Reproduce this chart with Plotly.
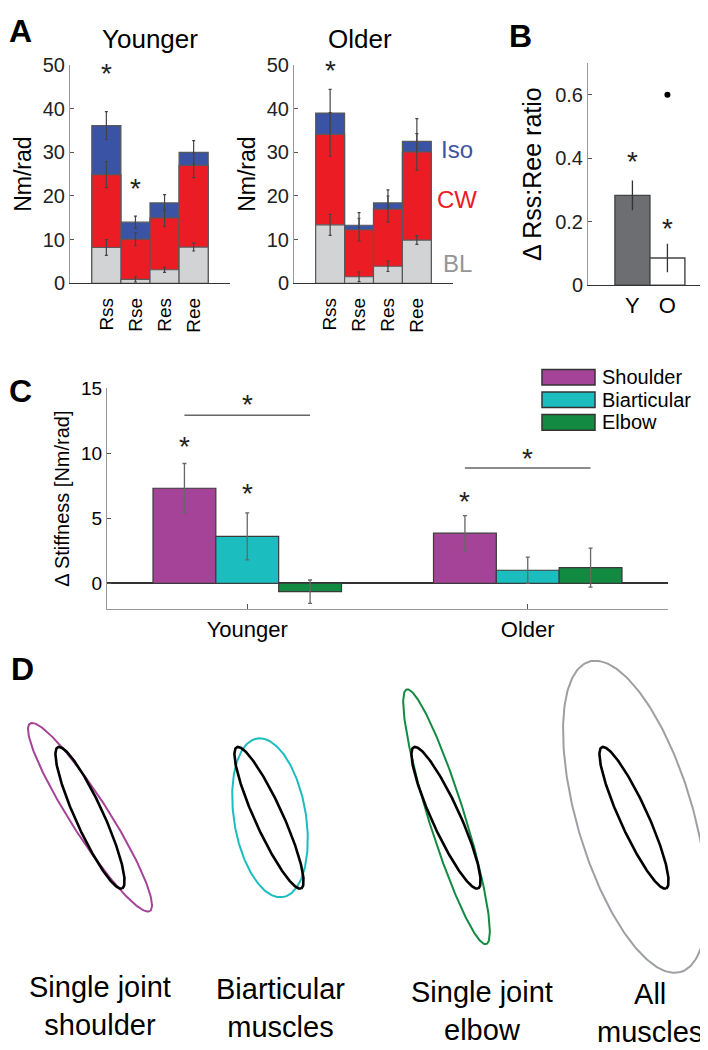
import numpy as np
import plotly.graph_objects as go

# page has an 8px body margin, so the figure is drawn 8px smaller
OFF = 8
W, H = 708 - OFF, 1050 - OFF
FONT = "Liberation Sans, Arial, sans-serif"

# ---- panel A: stiffness components (levels, Nm/rad) ----
segments = ["Rss", "Rse", "Res", "Ree"]
young_bl = [8.2, 0.9, 3.1, 8.3]
young_cw = [24.9, 10.1, 15.0, 27.0]
young_iso = [36.1, 14.0, 18.4, 30.0]
young_bl_err = [1.8, 0.6, 0.6, 0.9]
young_cw_err = [3.0, 1.5, 2.0, 2.8]
young_iso_err = [3.2, 1.4, 1.9, 2.7]
old_bl = [13.4, 1.5, 3.9, 9.9]
old_cw = [34.1, 12.3, 17.0, 30.1]
old_iso = [39.0, 13.3, 18.4, 32.5]
old_bl_err = [2.4, 1.1, 1.2, 1.0]
old_cw_err = [5.0, 2.6, 3.0, 4.2]
old_iso_err = [5.4, 2.9, 3.0, 5.2]
young_star_x = ["Rss", "Rse"]
young_star_y = [48.0, 21.6]
old_star_x = ["Rss"]
old_star_y = [48.8]

# ---- panel B: ratio ----
groups_b = ["Y", "O"]
ratio_vals = [0.283, 0.086]
ratio_err = [0.047, 0.045]
ratio_outlier = 0.6
ratio_star_y = [0.39, 0.18]

# ---- panel C: delta stiffness by muscle group ----
ages = ["Younger", "Older"]
age_pos = [0, 1]
muscles = ["Shoulder", "Biarticular", "Elbow"]
shoulder = [7.3, 3.85]
biart = [3.6, 1.0]
elbow = [-0.65, 1.2]
shoulder_err = [1.9, 1.35]
biart_err = [1.8, 1.0]
elbow_err = [0.9, 1.5]
sig_line_y = [12.9, 8.85]
sig_star_y = [13.7, 9.6]

# ---- panel D: ellipses (pixel units) ----
ell_labels = ["Single joint<br>shoulder", "Biarticular<br>muscles",
              "Single joint<br>elbow", "All<br>muscles"]
label_x = [100, 280, 482, 650]
label_y = [1016, 1018, 1021, 1023]
ell_cx = [90, 269, 446, 634]
ell_cy = [824, 824, 824, 824]
inner_a, inner_b, inner_ang = 79, 14, 66
outer_cx = [90, 270, 446.5, 635]
outer_cy = [823.5, 824, 823, 823]
outer_a = [113, 82, 136, 165]
outer_b = [19, 36, 18, 58]
outer_ang = [58, 81, 73, 74]

ISO = "#3B53A4"
CW = "#EC1C24"
BL = "#D1D3D4"
EDGE = "#58595B"
ERR = "#444444"
C_SH = "#A54399"
C_BI = "#1BBDBF"
C_EL = "#138A42"
C_ALL = "#9D9FA2"


def px(p):
    return (p - OFF) / W


def py(p):
    return 1 - (p - OFF) / H


def dx(p0, p1):
    return [px(p0), px(p1)]


def dy(top, bottom):
    return [py(bottom), py(top)]


fig = go.Figure()

# panel A bars (overlaid: total, CW, BL)
for xa, ya, lv, er in [("x", "y", [young_iso, young_cw, young_bl], [young_iso_err, young_cw_err, young_bl_err]),
                       ("x2", "y2", [old_iso, old_cw, old_bl], [old_iso_err, old_cw_err, old_bl_err])]:
    for vals, errs, col in zip(lv, er, [ISO, CW, BL]):
        fig.add_trace(go.Bar(
            x=segments, y=vals, width=1, xaxis=xa, yaxis=ya,
            marker=dict(color=col, line=dict(color=EDGE, width=1.2)),
            error_y=dict(type="data", array=errs, color=ERR, thickness=1.2, width=1.5)))

# panel B
fig.add_trace(go.Bar(
    x=groups_b, y=ratio_vals, width=1, xaxis="x3", yaxis="y3",
    marker=dict(color=["#6D6E71", "white"], line=dict(color="#444", width=1.4)),
    error_y=dict(type="data", array=ratio_err, color="#333", thickness=1.3, width=0)))
fig.add_trace(go.Scatter(x=["O"], y=[ratio_outlier], mode="markers", xaxis="x3", yaxis="y3",
                         marker=dict(color="black", size=6)))

# panel C
bw = 0.224
for vals, errs, col, off in [(shoulder, shoulder_err, C_SH, -1.5 * bw),
                             (biart, biart_err, C_BI, -0.5 * bw),
                             (elbow, elbow_err, C_EL, 0.5 * bw)]:
    fig.add_trace(go.Bar(
        x=age_pos, y=vals, width=bw, offset=off, xaxis="x4", yaxis="y4",
        marker=dict(color=col, line=dict(color="#3a3a3a", width=1.2)),
        error_y=dict(type="data", array=errs, color="#666", thickness=1.3, width=2)))
for xp, yv in zip(age_pos, sig_line_y):
    fig.add_trace(go.Scatter(x=[xp - bw, xp + bw], y=[yv, yv], mode="lines", xaxis="x4", yaxis="y4",
                             line=dict(color="#666", width=1.5)))

# panel D ellipses
t = np.linspace(0, 2 * np.pi, 240)


def ellipse(cx, cy, a, b, ang):
    th = np.deg2rad(ang)
    return (cx + a * np.cos(th) * np.cos(t) - b * np.sin(th) * np.sin(t),
            cy + a * np.sin(th) * np.cos(t) + b * np.cos(th) * np.sin(t))


for i, col in enumerate([C_SH, C_BI, C_EL, C_ALL]):
    ex, ey = ellipse(outer_cx[i], outer_cy[i], outer_a[i], outer_b[i], outer_ang[i])
    fig.add_trace(go.Scatter(x=ex, y=ey, mode="lines", xaxis="x5", yaxis="y5",
                             line=dict(color=col, width=2)))
    ex, ey = ellipse(ell_cx[i], ell_cy[i], inner_a, inner_b, inner_ang)
    fig.add_trace(go.Scatter(x=ex, y=ey, mode="lines", xaxis="x5", yaxis="y5",
                             line=dict(color="black", width=2.6)))

ann = []


def star(x, y, xr, yr):
    ann.append(dict(x=x, y=y, xref=xr, yref=yr, text="*", showarrow=False,
                    font=dict(size=28, color="#222"), yshift=0))


for x, y in zip(young_star_x, young_star_y):
    star(x, y, "x", "y")
for x, y in zip(old_star_x, old_star_y):
    star(x, y, "x2", "y2")
for x, y in zip(groups_b, ratio_star_y):
    star(x, y, "x3", "y3")
star(-bw, 10.5, "x4", "y4")
star(0, 6.9, "x4", "y4")
star(1 - bw, 6.3, "x4", "y4")
for xp, yv in zip(age_pos, sig_star_y):
    star(xp, yv, "x4", "y4")


def text(x, y, s, size, color="black", bold=False, xanchor="center"):
    ann.append(dict(x=px(x), y=py(y), xref="paper", yref="paper", text=f"<b>{s}</b>" if bold else s,
                    showarrow=False, xanchor=xanchor, yanchor="middle",
                    font=dict(size=size, color=color)))


text(20, 20, "A", 32, bold=True)
text(520, 25, "B", 32, bold=True)
text(20, 388, "C", 32, bold=True)
text(22, 672, "D", 32, bold=True)
text(150, 28, "Younger", 26)
text(360, 28, "Older", 26)
text(457, 141, "Iso", 24, ISO)
text(457, 192, "CW", 24, CW)
text(457, 258, "BL", 24, "#939598")

# legend panel C
leg_y = [374, 397, 420]
for name, col, yy in zip(muscles, [C_SH, C_BI, C_EL], leg_y):
    fig.add_shape(type="rect", xref="paper", yref="paper", x0=px(542), x1=px(595),
                  y0=py(yy + 8), y1=py(yy - 8),
                  fillcolor=col, line=dict(color="#333", width=1.5))
    text(600, yy, name, 20, xanchor="left")

# panel D labels
for lab, cx, cy in zip(ell_labels, label_x, label_y):
    ann.append(dict(x=cx, y=cy, xref="x5", yref="y5", text=lab, showarrow=False,
                    font=dict(size=29, color="black"), align="center"))

axis_common = dict(ticks="inside", ticklen=4, tickcolor="#555", showgrid=False, zeroline=False,
                   tickfont=dict(size=20, color="#222"))

fig.update_layout(
    width=W, height=H, margin=dict(l=0, r=0, t=0, b=0),
    paper_bgcolor="white", plot_bgcolor="white", showlegend=False,
    barmode="overlay", font=dict(family=FONT, color="black"),
    annotations=ann,
    xaxis=dict(domain=dx(70, 230), range=[-1.25, 4.25], showline=True, linecolor="#333",
               ticks="", tickangle=-90, tickfont=dict(size=19), ticklabelstandoff=6, showgrid=False),
    yaxis=dict(domain=dy(55, 278), range=[0, 50], showline=True, linecolor="#999",
               tickvals=[0, 10, 20, 30, 40, 50], title=dict(text="Nm/rad", font=dict(size=23), standoff=4),
               **axis_common),
    xaxis2=dict(domain=dx(294, 453), range=[-1.25, 4.25], showline=True, linecolor="#333",
                ticks="", tickangle=-90, tickfont=dict(size=19), ticklabelstandoff=6, showgrid=False),
    yaxis2=dict(domain=dy(55, 278), range=[0, 50], showline=True, linecolor="#999", anchor="x2",
                tickvals=[0, 10, 20, 30, 40, 50], title=dict(text="Nm/rad", font=dict(size=23), standoff=4),
                **axis_common),
    xaxis3=dict(domain=dx(588, 708), range=[-1.27, 2.16], showline=True, linecolor="#333",
                ticks="", tickfont=dict(size=22), showgrid=False, anchor="y3"),
    yaxis3=dict(domain=dy(53, 280), range=[0, 0.7], showline=True, linecolor="#999", anchor="x3",
                tickvals=[0, 0.2, 0.4, 0.6], ticktext=["0", "0.2", "0.4", "0.6"],
                title=dict(text="\u0394 Rss:Ree ratio", font=dict(size=25), standoff=6), **axis_common),
    xaxis4=dict(domain=dx(107, 668), range=[-0.5, 1.5], showline=True, linecolor="#999", anchor="y4",
                tickvals=age_pos, ticktext=ages,
                ticks="inside", ticklen=5, tickcolor="#555", tickfont=dict(size=22), showgrid=False,
                zeroline=False),
    yaxis4=dict(domain=dy(385, 611), range=[-2, 15], showline=True, linecolor="#999", anchor="x4",
                tickvals=[0, 5, 10, 15], zeroline=True, zerolinecolor="#333", zerolinewidth=1.5,
                title=dict(text="\u0394 Stiffness [Nm/rad]", font=dict(size=20), standoff=6),
                ticks="inside", ticklen=4, tickcolor="#555", showgrid=False, tickfont=dict(size=19)),
    xaxis5=dict(domain=[0, 1], range=[OFF, 708], visible=False, anchor="y5"),
    yaxis5=dict(domain=dy(640, 1050), range=[1050, 640], visible=False, anchor="x5"),
)

fig.write_html("out.html")
